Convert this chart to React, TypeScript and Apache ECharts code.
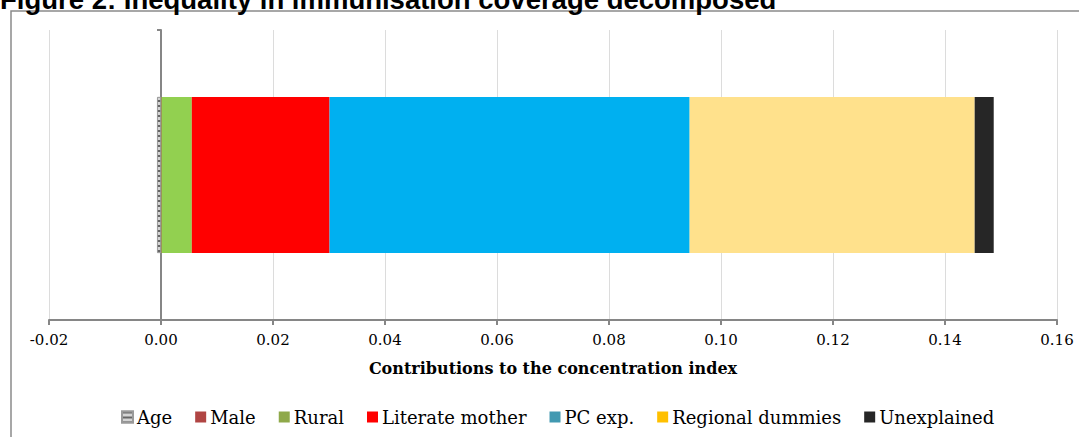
import React, { useEffect, useRef } from "react";
import * as echarts from "echarts";

const categories = ["Decomposition"];
const seriesNames = ["Age", "Male", "Rural", "Literate mother", "PC exp.", "Regional dummies", "Unexplained"];
const seriesValues = [-0.0007, 0.0001, 0.0054, 0.0246, 0.0643, 0.0509, 0.0034];
const legendColors = ["#d4d4d4", "#B04543", "#8FA94A", "#FF0000", "#4299B1", "#FFC000", "#262626"];
const barColors = ["#d4d4d4", "#B04543", "#92D050", "#FF0000", "#00B0F0", "#FFE18C", "#262626"];
const xMin = -0.02;
const xMax = 0.16;
const xInterval = 0.02;
const titleText = "Figure 2: Inequality in immunisation coverage decomposed";
const axisTitle = "Contributions to the concentration index";

export default function App() {
  const ref = useRef<HTMLDivElement>(null);
  useEffect(() => {
    if (!ref.current) return;
    const chart = echarts.init(ref.current, null, { renderer: "svg" });
    const serif = "DejaVu Serif";
    const series = seriesNames.map((name, i) => {
      const isAge = i === 0;
      const decal = isAge
        ? {
            symbol: "rect",
            symbolSize: 1,
            dashArrayX: [[2, 0]],
            dashArrayY: [2, 3],
            color: "#666666",
            rotation: 0,
          }
        : undefined;
      return {
        name,
        type: "bar",
        stack: "total",
        barWidth: 156,
        itemStyle: {
          color: legendColors[i],
          borderColor: isAge ? "#9a9a9a" : undefined,
          borderWidth: isAge ? 0.8 : 0,
          decal,
        },
        data: categories.map(() => ({
          value: seriesValues[i],
          itemStyle: { color: barColors[i], decal },
        })),
      };
    });
    chart.setOption({
      animation: false,
      backgroundColor: "#ffffff",
      grid: { left: 49, right: 22, top: 30, bottom: 117, containLabel: false },
      xAxis: {
        type: "value",
        min: xMin,
        max: xMax,
        interval: xInterval,
        axisLine: { show: true, onZero: false, lineStyle: { color: "#868686", width: 2 } },
        axisTick: { show: true, length: 5, lineStyle: { color: "#868686", width: 2 } },
        axisLabel: {
          formatter: (v: number) => v.toFixed(2),
          color: "#000",
          fontFamily: serif,
          fontSize: 15,
          margin: 12,
        },
        splitLine: { show: true, lineStyle: { color: "#dcdcdc", width: 1 } },
        name: axisTitle,
        nameLocation: "middle",
        nameGap: 40,
        nameTextStyle: { fontFamily: serif, fontWeight: "bold", fontSize: 16, color: "#000" },
      },
      yAxis: {
        type: "category",
        data: categories,
        axisLine: { show: true, onZero: true, lineStyle: { color: "#868686", width: 2 } },
        axisTick: { show: true, length: 4, lineStyle: { color: "#868686", width: 2 } },
        axisLabel: { show: false },
        splitLine: { show: false },
      },
      legend: {
        bottom: 6,
        left: 116,
        itemWidth: 11,
        itemHeight: 11,
        itemGap: 23,
        icon: "rect",
        textStyle: { fontFamily: serif, fontSize: 18, color: "#000", padding: [0, 0, 0, -1] },
        data: seriesNames,
      },
      graphic: [
        {
          type: "rect",
          shape: { x: 11, y: 11, width: 1200, height: 600 },
          style: { fill: "none", stroke: "#8a8a8a", lineWidth: 1.5 },
          silent: true,
          z: -1,
        },
        {
          type: "text",
          x: 0,
          y: 13,
          style: {
            text: titleText,
            font: "bold 27.5px 'Liberation Sans', Arial, sans-serif",
            fill: "#000",
            verticalAlign: "bottom",
          },
          silent: true,
        },
      ],
      series,
    });
    return () => chart.dispose();
  }, []);
  return (
    <div
      ref={ref}
      style={{ position: "fixed", left: 0, top: 0, width: 1079, height: 437, background: "#fff" }}
    />
  );
}
